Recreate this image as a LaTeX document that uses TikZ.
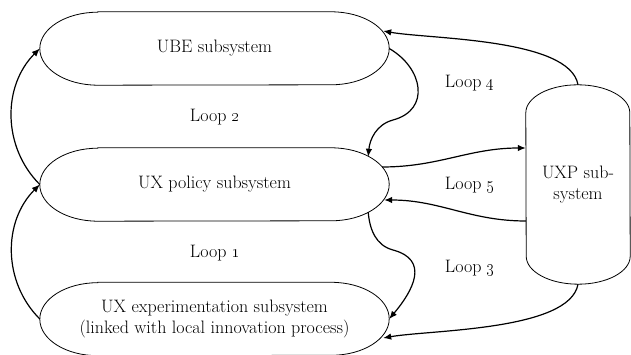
\documentclass[tikz,border=0pt]{standalone}
\usepackage{tikz}
\usetikzlibrary{calc,arrows.meta,positioning}

\begin{document}
\begin{tikzpicture}[>={Latex[length=8pt,width=6.5pt]}, x=1pt, y=1pt, every node/.style={font=\fontsize{18}{21}\selectfont}]
  \tikzset{
    subsys/.style={minimum width=349pt, minimum height=73pt, inner sep=0pt, align=center},
    uxpsys/.style={minimum width=104pt, minimum height=199pt, inner sep=0pt, align=center},
    outline/.style={line width=0.8pt},
    loopline/.style={->, line width=1.2pt},
  }
  \useasboundingbox (0,0) rectangle (631,355);

  \node (ube) at (214.5,306.5) [subsys] {UBE subsystem};
  \node (pol) at (214.5,170.5) [subsys] {UX policy subsystem};
  \node (exp) at (214.5,36) [subsys] {UX experimentation subsystem\\(linked with local innovation process)};
  \node (uxp) at (578,170.5) [uxpsys] {UXP sub-\\system};

  % terminator outlines
  \foreach \n in {ube,pol,exp}
    \draw[outline] ($(\n.north west)+(58,0)$) -- ($(\n.north east)+(-58,0)$)
      arc[start angle=90, end angle=-90, x radius=58pt, y radius=36.5pt]
      -- ($(\n.south west)+(58,0)$)
      arc[start angle=270, end angle=90, x radius=58pt, y radius=36.5pt] -- cycle;
  \draw[outline] ($(uxp.north west)+(0,-28)$)
    arc[start angle=180, end angle=0, x radius=52pt, y radius=28pt]
    -- ($(uxp.south east)+(0,28)$)
    arc[start angle=0, end angle=-180, x radius=52pt, y radius=28pt] -- cycle;

  \node (l1) at (215,102) {Loop \oldstylenums{1}};
  \node (l2) at (215,238) {Loop \oldstylenums{2}};
  \node (l3) at (470,87) {Loop \oldstylenums{3}};
  \node (l4) at (470,272) {Loop \oldstylenums{4}};
  \node (l5) at (470,170) {Loop \oldstylenums{5}};

  % loops 1 and 2
  \draw[loopline] (exp.west) to[out=135, in=225] (pol.west);
  \draw[loopline] (pol.west) to[out=135, in=225] (ube.west);

  % loops 3 and 4
  \coordinate (p4) at ($(pol.north east)+(-21,-9)$);
  \coordinate (w4) at (393,235);
  \draw[loopline] (ube.east) to[out=-30, in=15, looseness=1.4] (w4) to[out=195, in=85] (p4);
  \coordinate (p3) at ($(pol.south east)+(-21,9)$);
  \coordinate (w3) at (393,105);
  \draw[loopline] (p3) to[out=-85, in=165] (w3) to[out=-15, in=50, looseness=1.4] (exp.east);

  \coordinate (u4) at ($(ube.east)+(-6,17.5)$);
  \draw[loopline] (uxp.north) to[out=100, in=-10, looseness=0.6] (u4);
  \coordinate (e3) at ($(exp.east)+(-6,-19)$);
  \draw[loopline] (uxp.south) to[out=-100, in=10, looseness=0.6] (e3);

  % loop 5
  \coordinate (q1) at ($(pol.east)+(-7,17.5)$);
  \coordinate (q2) at ($(uxp.west)+(0,36.5)$);
  \draw[loopline] (q1) to[out=0, in=180] (q2);
  \coordinate (q3) at ($(uxp.west)+(0,-36.5)$);
  \coordinate (q4) at ($(pol.east)+(-5,-15.5)$);
  \draw[loopline] (q3) to[out=180, in=0] (q4);
\end{tikzpicture}
\end{document}
